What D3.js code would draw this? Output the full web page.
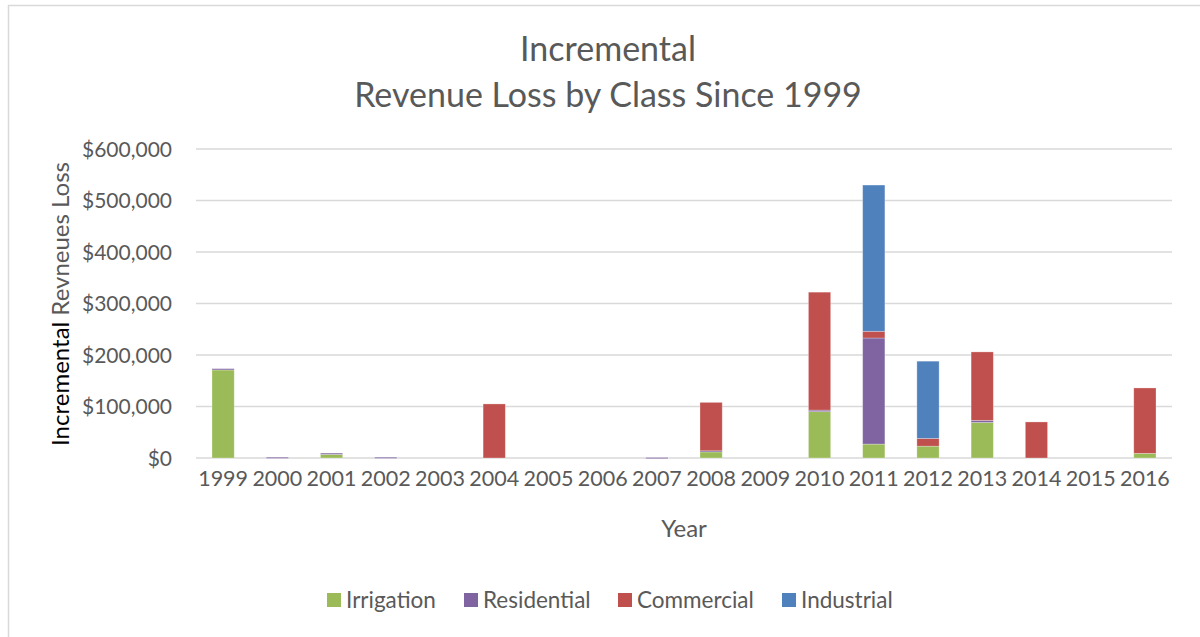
<!DOCTYPE html>
<html>
<head>
<meta charset="utf-8">
<script src="https://cdn.jsdelivr.net/npm/d3@7"></script>
<style>
  body { margin: 0; background: #fff; }
  svg { display: block; }
  svg text { font-family: Lato, "Open Sans", sans-serif; }
</style>
</head>
<body>
<div id="chart"></div>
<script>
// Revenue loss by class, stacked columns
const years = ['1999','2000','2001','2002','2003','2004','2005','2006','2007','2008',
               '2009','2010','2011','2012','2013','2014','2015','2016'];
const irrigation  = [171000, 0, 7000, 0, 0, 0, 0, 0, 0, 12000, 0, 90000, 27000, 23000, 69000, 0, 0, 9000];
const residential = [2500, 1500, 2500, 1500, 0, 0, 0, 0, 1000, 2000, 0, 3000, 206000, 0, 4000, 0, 0, 0];
const commercial  = [0, 0, 0, 0, 0, 105000, 0, 0, 0, 94000, 0, 229000, 13000, 15000, 133000, 70000, 0, 127000];
const industrial  = [0, 0, 0, 0, 0, 0, 0, 0, 0, 0, 0, 0, 284000, 150000, 0, 0, 0, 0];
const yTicks = [0, 100000, 200000, 300000, 400000, 500000, 600000];

const seriesNames = ['Irrigation', 'Residential', 'Commercial', 'Industrial'];
const seriesValues = [irrigation, residential, commercial, industrial];
const colors = ['#9BBB59', '#8064A2', '#C0504D', '#4F81BD'];

const width = 1200, height = 637;
const plot = {left: 196, right: 1172, top: 149, bottom: 458};

const svg = d3.select('#chart').append('svg')
  .attr('width', width)
  .attr('height', height);

// chart frame
svg.append('rect')
  .attr('x', 8.5).attr('y', 5.5)
  .attr('width', width).attr('height', height)
  .attr('fill', 'none')
  .attr('stroke', '#d9d9d9')
  .attr('stroke-width', 1.5);

const x = d3.scaleBand()
  .domain(years)
  .range([plot.left, plot.right])
  .paddingInner(0.59)
  .paddingOuter(0.295);

const y = d3.scaleLinear()
  .domain([0, 600000])
  .range([plot.bottom, plot.top]);

// gridlines
svg.append('g')
  .selectAll('line')
  .data(yTicks)
  .join('line')
  .attr('x1', plot.left).attr('x2', plot.right)
  .attr('y1', d => y(d)).attr('y2', d => y(d))
  .attr('stroke', '#d9d9d9')
  .attr('stroke-width', 1.5);

// stacked bars
const rows = years.map((yr, i) => {
  const r = {year: yr};
  seriesNames.forEach((s, k) => { r[s] = seriesValues[k][i]; });
  return r;
});
const stacked = d3.stack().keys(seriesNames)(rows);

svg.append('g')
  .selectAll('g')
  .data(stacked)
  .join('g')
  .attr('fill', (d, i) => colors[i])
  .selectAll('rect')
  .data(d => d.filter(p => p[1] - p[0] > 0))
  .join('rect')
  .attr('x', d => x(d.data.year))
  .attr('width', x.bandwidth())
  .attr('y', d => y(d[1]))
  .attr('height', d => Math.max(1.2, y(d[0]) - y(d[1])))
  .attr('stroke', 'rgba(255,255,255,0.35)')
  .attr('stroke-width', 0.8);

// y axis
const yAxis = svg.append('g')
  .attr('transform', `translate(${plot.left - 24},0)`)
  .call(d3.axisLeft(y).tickValues(yTicks).tickSize(0).tickPadding(0)
    .tickFormat(d => '$' + d3.format(',')(d)));
yAxis.attr('font-family', null);
yAxis.select('.domain').remove();
yAxis.selectAll('text')
  .attr('fill', '#595959')
  .style('font-size', '21px')
  .attr('dy', '0.35em');

// x axis
const xAxis = svg.append('g')
  .attr('transform', `translate(0,${plot.bottom})`)
  .call(d3.axisBottom(x).tickSize(0).tickPadding(0));
xAxis.attr('font-family', null);
xAxis.select('.domain').remove();
xAxis.selectAll('text')
  .attr('fill', '#595959')
  .style('font-size', '21.5px')
  .attr('dy', '1.3em');

// titles
const title = svg.append('text')
  .attr('text-anchor', 'middle')
  .attr('fill', '#595959')
  .style('font-size', '34px');
title.append('tspan').attr('x', 608).attr('y', 61).text('Incremental');
title.append('tspan').attr('x', 608).attr('y', 107).text('Revenue Loss by Class Since 1999');

svg.append('text')
  .attr('x', (plot.left + plot.right) / 2)
  .attr('y', 537)
  .attr('text-anchor', 'middle')
  .attr('fill', '#595959')
  .style('font-size', '24px')
  .text('Year');

const yTitle = svg.append('text')
  .attr('transform', 'translate(69,304) rotate(-90)')
  .attr('text-anchor', 'middle')
  .style('font-size', '24px');
yTitle.append('tspan').attr('fill', '#000').text('Incremental ');
yTitle.append('tspan').attr('fill', '#595959').text('Revneues Loss');

// legend
const legendX = [327, 464, 618, 782];
const legend = svg.append('g')
  .selectAll('g')
  .data(seriesNames)
  .join('g')
  .attr('transform', (d, i) => `translate(${legendX[i]},593)`);
legend.append('rect')
  .attr('width', 14).attr('height', 14)
  .attr('fill', (d, i) => colors[i]);
legend.append('text')
  .attr('x', 19).attr('y', 14.5)
  .attr('fill', '#595959')
  .style('font-size', '22.5px')
  .text(d => d);
</script>
</body>
</html>
